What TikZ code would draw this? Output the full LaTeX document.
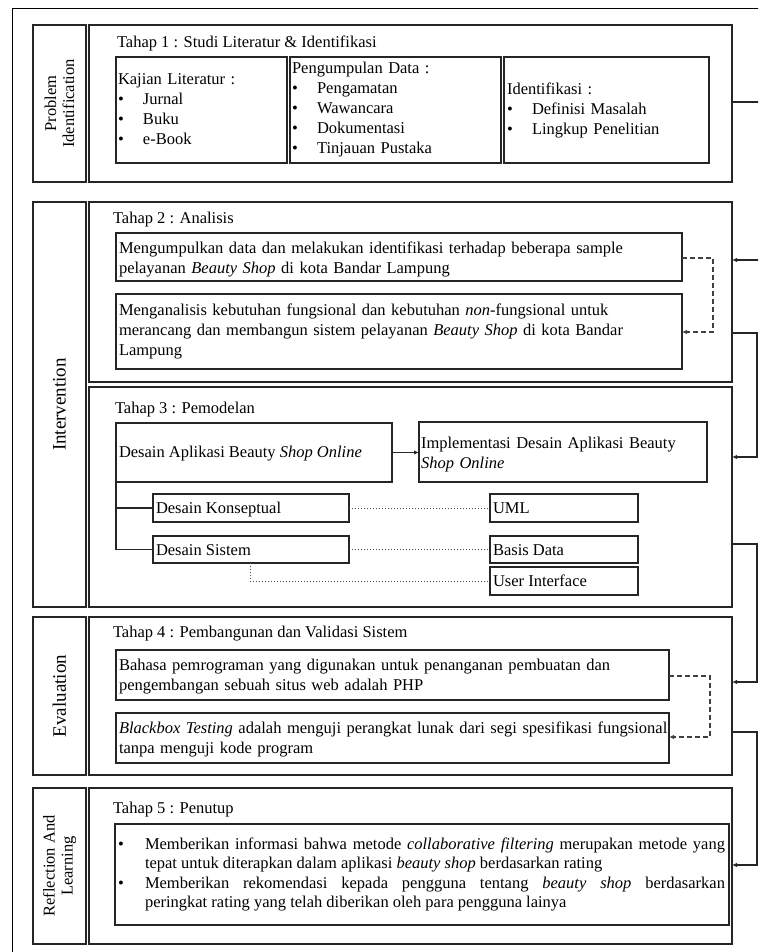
\documentclass[tikz,border=0pt]{standalone}
\usepackage{fontspec}
\setmainfont{Liberation Serif}
\usetikzlibrary{arrows.meta}

\tikzset{
  frame/.style={draw=black!85, line width=1.1pt, inner sep=0pt, outer sep=0pt},
  panel/.style={frame, line width=1.3pt},
  tag/.style={panel, rotate=90, align=center, font=\fontsize{16.5}{18}\selectfont},
  bigtag/.style={font=\fontsize{19}{21}\selectfont},
  txt/.style={inner sep=0pt, outer sep=0pt, anchor=base west, font=\fontsize{16.5}{20}\selectfont},
  lines/.style={txt, text width=600pt, align=left},
  flow/.style={draw=black!85, line width=1.1pt, -{Latex[length=5pt,width=4.5pt]}},
  loop/.style={draw=black!75, line width=1.1pt, dash pattern=on 5pt off 3pt, -{Latex[length=5pt,width=4.5pt]}},
  dots/.style={draw=black!70, line width=0.9pt, dash pattern=on 1pt off 2pt},
  link/.style={draw=black!85, line width=1.1pt},
}

% empty frame from (x1,y1) to (x2,y2), y measured downwards
\newcommand\mkbox[6][frame]{%
  \node[#1, minimum width={#5-#3}, minimum height={#6-#4}] (#2) at ({(#3+#5)/2},{(#4+#6)/2}) {};}
% rotated stage label filling (x1,y1)-(x2,y2)
\newcommand\mktag[7][]{%
  \node[tag, #1, minimum width={#7-#5}, minimum height={#6-#4}] (#2) at ({(#4+#6)/2},{(#5+#7)/2}) {#3};}
\newcommand\bul[1]{\makebox[25pt][l]{•}#1}

\begin{document}
\begin{tikzpicture}[x=1pt, y=-1pt]
\useasboundingbox (0,0) rectangle (758,952);
\clip (0,0) rectangle (758,952);
\fill[white] (0,0) rectangle (758,952);

% outer frame
\draw[black, line width=1pt] (12,980) -- (12,9) -- (790,9);

% ---------- Stage 1 ----------
\mktag{lab1}{Problem\\Identification}{33}{25}{86}{182}
\mkbox[panel]{s1}{89}{25}{732}{182}
\node[txt] (h1) at (117,48) {Tahap 1 : Studi Literatur \& Identifikasi};
\mkbox{kaj}{116}{57}{287}{163}
\mkbox{pen}{290}{57}{501}{163}
\mkbox{idf}{504}{57}{709}{163}
\node[lines, text width=165pt] (kajt) at (118,85) {Kajian Literatur :\\\bul{Jurnal}\\\bul{Buku}\\\bul{e-Book}};
\node[lines, text width=205pt] (pent) at (292,74) {Pengumpulan Data :\\\bul{Pengamatan}\\\bul{Wawancara}\\\bul{Dokumentasi}\\\bul{Tinjauan Pustaka}};
\node[lines, text width=195pt] (idft) at (507,95) {Identifikasi :\\\bul{Definisi Masalah}\\\bul{Lingkup Penelitian}};

% ---------- Stage 2 and 3 ----------
\mktag[bigtag]{lab2}{Intervention}{33}{202}{86}{607}
\mkbox[panel]{s2}{89}{202}{732}{382}
\node[txt] (h2) at (113,223) {Tahap 2 : Analisis};
\mkbox{a1}{116}{233}{682}{281}
\node[lines] (a1t) at (119,253) {Mengumpulkan data dan melakukan identifikasi terhadap beberapa sample\\pelayanan \textit{Beauty Shop} di kota Bandar Lampung};
\mkbox{a2}{116}{294}{682}{369}
\node[lines] (a2t) at (119,315) {Menganalisis kebutuhan fungsional dan kebutuhan \textit{non}-fungsional untuk\\merancang dan membangun sistem pelayanan \textit{Beauty Shop} di kota Bandar\\Lampung};
\draw[loop] (a1.east |- 0,258) -- ++(31,0) |- (a2.east |- 0,332);

\mkbox[panel]{s3}{89}{387}{732}{607}
\node[txt] (h3) at (115,413) {Tahap 3 : Pemodelan};
\mkbox{da}{116}{423}{392}{482}
\node[txt] (dat) at (119,457) {Desain Aplikasi Beauty \textit{Shop Online}};
\mkbox{im}{419}{422}{707}{482}
\node[lines, text width=280pt] (imt) at (421,448) {Implementasi Desain Aplikasi Beauty\\\textit{Shop Online}};
\mkbox{dk}{153}{494}{349}{522}
\node[txt] (dkt) at (156,513) {Desain Konseptual};
\mkbox{dsi}{153}{536}{349}{563}
\node[txt] (dsit) at (156,555) {Desain Sistem};
\mkbox{uml}{490}{494}{638}{522}
\node[txt] (umlt) at (493,513) {UML};
\mkbox{bd}{490}{536}{638}{563}
\node[txt] (bdt) at (493,555) {Basis Data};
\mkbox{ui}{490}{567}{638}{595}
\node[txt] (uit) at (493,586) {User Interface};
\draw[flow] (da.east) -- (im.west |- da.east);
\draw[link] (da.south west) |- (dk.west);
\draw[link] (da.south west) |- (dsi.west);
\draw[dots] (dk.east) -- (uml.west);
\draw[dots] (dsi.east) -- (bd.west);
\draw[dots] (dsi.south -| 250,0) |- (ui.west);

% ---------- Stage 4 ----------
\mktag[bigtag]{lab4}{Evaluation}{33}{617}{86}{775}
\mkbox[panel]{s4}{89}{617}{732}{775}
\node[txt] (h4) at (113,637) {Tahap 4 : Pembangunan dan Validasi Sistem};
\mkbox{c1}{116}{650}{669}{700}
\node[lines] (c1t) at (119,670) {Bahasa pemrograman yang digunakan untuk penanganan pembuatan dan\\pengembangan sebuah situs web adalah PHP};
\mkbox{c2}{116}{713}{669}{763}
\node[lines] (c2t) at (119,733) {\textit{Blackbox Testing} adalah menguji perangkat lunak dari segi spesifikasi fungsional\\tanpa menguji kode program};
\draw[loop] (c1.east |- 0,676) -- ++(41,0) |- (c2.east |- 0,737);

% ---------- Stage 5 ----------
\mktag{lab5}{Reflection And\\Learning}{33}{788}{86}{944}
\mkbox[panel]{s5}{89}{788}{732}{944}
\node[txt] (h5) at (113,813) {Tahap 5 : Penutup};
\mkbox{e1}{115}{824}{729}{925}
\node[txt] (b1) at (118,849) {•};
\node[txt, text width=580pt, align=justify, font=\fontsize{16.5}{19.5}\selectfont] (e1t) at (145,849)
  {Memberikan informasi bahwa metode \textit{collaborative filtering} merupakan metode yang\linebreak
   tepat untuk diterapkan dalam aplikasi \textit{beauty shop} berdasarkan rating};
\node[txt] (b2) at (118,888) {•};
\node[txt, text width=580pt, align=justify, font=\fontsize{16.5}{19.5}\selectfont] (e2t) at (145,888)
  {Memberikan rekomendasi kepada pengguna tentang \textit{beauty shop} berdasarkan\linebreak
   peringkat rating yang telah diberikan oleh para pengguna lainya};

% ---------- stage to stage flow ----------
\draw[flow] (s1.east |- 0,102) -- ++(40,0) |- (s2.east |- 0,260);
\draw[flow] (s2.east |- 0,333) -- ++(25,0) |- (s3.east |- 0,457);
\draw[flow] (s3.east |- 0,544) -- ++(25,0) |- (s4.east |- 0,682);
\draw[flow] (s4.east |- 0,732) -- ++(25,0) |- (s5.east |- 0,865);
\end{tikzpicture}
\end{document}
